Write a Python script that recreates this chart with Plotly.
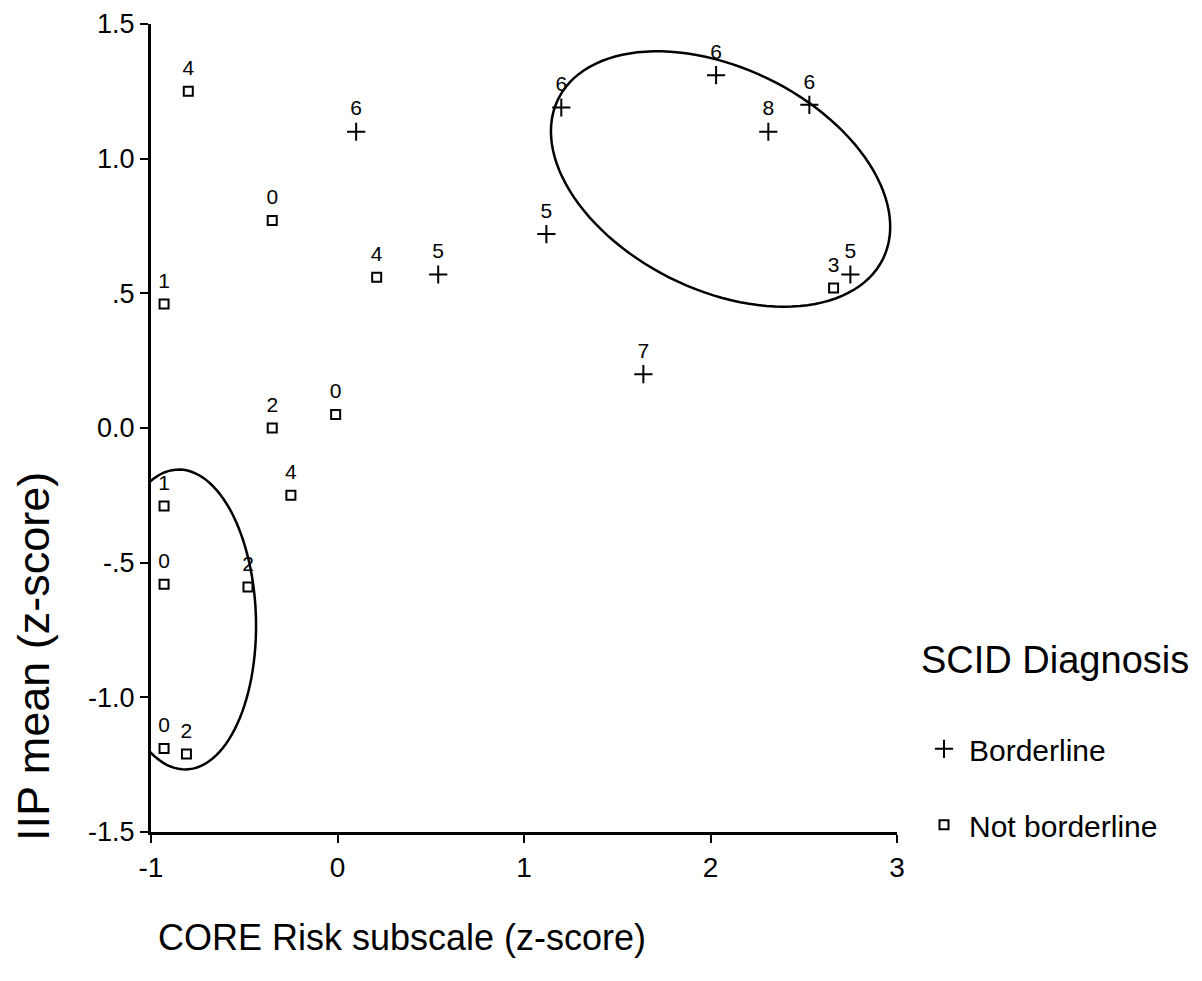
import numpy as np
import plotly.graph_objects as go

# CORE Risk (x) vs IIP mean (y), z-scores, with numeric labels per participant
border_x = [0.10, 0.54, 1.12, 1.20, 2.03, 2.31, 2.53, 2.75, 1.64]
border_y = [1.10, 0.57, 0.72, 1.19, 1.31, 1.10, 1.20, 0.57, 0.20]
border_lbl = ["6", "5", "5", "6", "6", "8", "6", "5", "7"]

notb_x = [-0.80, -0.35, -0.93, 0.21, -0.35, -0.01, -0.25, -0.93, -0.93, -0.48, -0.93, -0.81, 2.66]
notb_y = [1.25, 0.77, 0.46, 0.56, 0.00, 0.05, -0.25, -0.29, -0.58, -0.59, -1.19, -1.21, 0.52]
notb_lbl = ["4", "0", "1", "4", "2", "0", "4", "1", "0", "2", "0", "2", "3"]

y_ticks = [-1.5, -1.0, -0.5, 0.0, 0.5, 1.0, 1.5]
y_tick_text = ["-1.5", "-1.0", "-.5", "0.0", ".5", "1.0", "1.5"]
x_ticks = [-1, 0, 1, 2, 3]
x_tick_text = ["-1", "0", "1", "2", "3"]

FONT = "Arial, Liberation Sans, sans-serif"
W, H = 1202, 981
ML, MR, MT, MB = 151, 305, 24, 149
XR, YR = [-1, 3], [-1.5, 1.5]
PW, PH = W - ML - MR, H - MT - MB
px_x = PW / (XR[1] - XR[0])
px_y = PH / (YR[1] - YR[0])


def ellipse_path(cx, cy, a_px, b_px, ang_deg, n=120):
    """Closed SVG path of an ellipse whose axes are given in screen pixels."""
    t = np.linspace(0, 2 * np.pi, n)
    ang = np.deg2rad(ang_deg)
    dx = a_px * np.cos(ang) * np.cos(t) - b_px * np.sin(ang) * np.sin(t)
    dy = a_px * np.sin(ang) * np.cos(t) + b_px * np.cos(ang) * np.sin(t)
    xs = cx + dx / px_x
    ys = cy - dy / px_y
    pts = [f"{x:.4f},{y:.4f}" for x, y in zip(xs, ys)]
    return "M " + " L ".join(pts) + " Z"


fig = go.Figure()
fig.add_trace(go.Scatter(
    x=border_x, y=border_y, mode="markers",
    name="Borderline", legendgroup="b",
    marker=dict(symbol="cross-thin-open", size=13, color="black",
                line=dict(color="black", width=2)),
))
fig.add_trace(go.Scatter(
    x=notb_x, y=notb_y, mode="markers",
    name="Not borderline", legendgroup="n",
    marker=dict(symbol="square-open", size=9, color="black",
                line=dict(color="black", width=2)),
))

# number labels above each point (transparent spacer markers set the offset)
for xs, ys, lbl in [(border_x, border_y, border_lbl), (notb_x, notb_y, notb_lbl)]:
    fig.add_trace(go.Scatter(
        x=xs, y=ys, text=lbl, mode="markers+text", showlegend=False,
        hoverinfo="skip", marker=dict(size=16, opacity=0),
        textposition="top center",
        textfont=dict(family=FONT, size=21, color="black"),
    ))

fig.add_shape(type="path", xref="x", yref="y",
              path=ellipse_path(2.054, 0.9245, 181, 111, 26.2),
              line=dict(color="black", width=2.5))
fig.add_shape(type="path", xref="x", yref="y",
              path=ellipse_path(-0.834, -0.711, 150, 74, 88.4),
              line=dict(color="black", width=2.5))

fig.add_annotation(text="IIP mean (z-score)", xref="paper", yref="paper",
                   x=(33 - ML) / PW, y=(H - MB - 657) / PH,
                   textangle=-90, showarrow=False, xanchor="center", yanchor="middle",
                   font=dict(family=FONT, size=45, color="black"))
fig.add_annotation(text="CORE Risk subscale (z-score)", xref="paper", yref="paper",
                   x=(156 - ML) / PW, y=-(937 - (H - MB)) / PH,
                   showarrow=False, xanchor="left", yanchor="middle",
                   font=dict(family=FONT, size=36, color="black"))

fig.update_layout(
    width=W, height=H,
    margin=dict(l=ML, r=MR, t=MT, b=MB, autoexpand=False),
    paper_bgcolor="white", plot_bgcolor="white",
    font=dict(family=FONT, color="black"),
    showlegend=True,
    legend=dict(
        title=dict(text="SCID Diagnosis<br> ", font=dict(family=FONT, size=38, color="black")),
        font=dict(family=FONT, size=30, color="black"),
        x=(919 - ML) / PW, y=(H - MB - 624) / PH,
        xanchor="left", yanchor="top",
        tracegroupgap=34, itemwidth=40,
        bgcolor="rgba(0,0,0,0)",
    ),
    xaxis=dict(range=XR, tickvals=x_ticks, ticktext=x_tick_text,
               showgrid=False, zeroline=False, showline=True,
               linecolor="black", linewidth=3, ticks="outside", ticklen=8,
               tickwidth=2, tickcolor="black",
               tickfont=dict(family=FONT, size=28, color="black")),
    yaxis=dict(range=YR, tickvals=y_ticks, ticktext=y_tick_text,
               showgrid=False, zeroline=False, showline=True,
               linecolor="black", linewidth=3, ticks="outside", ticklen=8,
               tickwidth=2, tickcolor="black",
               tickfont=dict(family=FONT, size=27, color="black")),
)

fig.write_html("out.html")
